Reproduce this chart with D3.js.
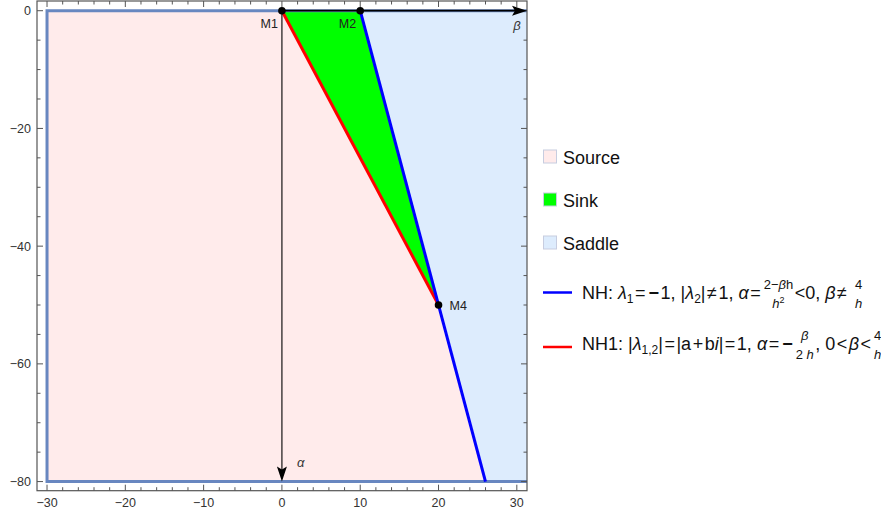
<!DOCTYPE html>
<html>
<head>
<meta charset="utf-8">
<script src="https://cdn.jsdelivr.net/npm/d3@7"></script>
<style>
  body { margin: 0; background: #fff; }
  text { font-family: "Liberation Sans", Arial, sans-serif; white-space: pre; }
</style>
</head>
<body>
<div id="chart"></div>
<script>
// axis ticks
var xTicks = [-30, -20, -10, 0, 10, 20, 30];
var xMinor = d3.range(-30, 31, 2);
var yTicks = [0, -20, -40, -60, -80];
var yMinor = d3.range(0, -81, -5);

// regions (beta, alpha)
var xMax = 31.3;
var sourcePoly = [[-30, 0], [0, 0], [20, -50], [26, -80], [-30, -80]];
var sinkPoly = [[0, 0], [10, 0], [20, -50]];
var saddlePoly = [[10, 0], [xMax, 0], [xMax, -80], [26, -80]];
var borderPath = [[xMax, 0], [-30, 0], [-30, -80], [xMax, -80]];

// boundary lines
var nhLine = [[10, 0], [26, -80]];
var nh1Line = [[0, 0], [20, -50]];

// special points
var points = [
  {name: "M1", b: 0, a: 0, side: "left"},
  {name: "M2", b: 10, a: 0, side: "left"},
  {name: "M4", b: 20, a: -50, side: "right"}
];

var legendBoxes = [
  {label: "Source", fill: "#ffebeb"},
  {label: "Sink", fill: "#00ff00"},
  {label: "Saddle", fill: "#ddecfd"}
];

var width = 881, height = 516;

var svg = d3.select("#chart").append("svg")
  .attr("width", width)
  .attr("height", height);

var x = d3.scaleLinear().domain([-31.28, xMax]).range([37, 527]);
var y = d3.scaleLinear().domain([1.65, -81.55]).range([1, 490.7]);

var line = d3.line().x(function(d) { return x(d[0]); }).y(function(d) { return y(d[1]); });
var poly = function(p) { return line(p) + "Z"; };

// filled regions
svg.append("path").attr("d", poly(sourcePoly)).attr("fill", "#ffebeb");
svg.append("path").attr("d", poly(saddlePoly)).attr("fill", "#ddecfd");
svg.append("path").attr("d", poly(sinkPoly)).attr("fill", "#00ff00");

// region border
svg.append("path").attr("d", line(borderPath))
  .attr("fill", "none").attr("stroke", "#6887c0").attr("stroke-width", 3);

// boundary lines
svg.append("path").attr("d", line(nh1Line))
  .attr("stroke", "#ff0000").attr("stroke-width", 3).attr("fill", "none");
svg.append("path").attr("d", line(nhLine))
  .attr("stroke", "#0000ff").attr("stroke-width", 3).attr("fill", "none");

// frame with inward ticks
var frameColor = "#555";
var x0 = x.range()[0], x1 = x.range()[1], y0 = y.range()[0], y1 = y.range()[1];
svg.append("rect").attr("x", x0).attr("y", y0).attr("width", x1 - x0).attr("height", y1 - y0)
  .attr("fill", "none").attr("stroke", frameColor).attr("stroke-width", 1.2);

var ticks = svg.append("g").attr("stroke", frameColor).attr("stroke-width", 1);
xMinor.forEach(function(v) {
  var len = xTicks.indexOf(v) >= 0 ? 6 : 3.5;
  ticks.append("line").attr("x1", x(v)).attr("x2", x(v)).attr("y1", y1).attr("y2", y1 - len);
  ticks.append("line").attr("x1", x(v)).attr("x2", x(v)).attr("y1", y0).attr("y2", y0 + len);
});
yMinor.forEach(function(v) {
  var len = yTicks.indexOf(v) >= 0 ? 6 : 3.5;
  ticks.append("line").attr("x1", x0).attr("x2", x0 + len).attr("y1", y(v)).attr("y2", y(v));
  ticks.append("line").attr("x1", x1).attr("x2", x1 - len).attr("y1", y(v)).attr("y2", y(v));
});

var fmt = function(v) { return v < 0 ? "\u2212" + Math.abs(v) : String(v); };
svg.append("g").selectAll("text").data(xTicks).enter().append("text")
  .attr("x", function(d) { return x(d); })
  .attr("y", 507)
  .attr("text-anchor", "middle")
  .attr("font-size", 12.5).attr("fill", "#333")
  .text(fmt);
svg.append("g").selectAll("text").data(yTicks).enter().append("text")
  .attr("x", 31)
  .attr("y", function(d) { return y(d) + 4.4; })
  .attr("text-anchor", "end")
  .attr("font-size", 12.5).attr("fill", "#333")
  .text(fmt);

// axis arrows
function arrowHead(tx, ty, ang) {
  var L = 15, W = 5, N = 3;
  var pts = [[0, 0], [-L, -W], [-L + N, 0], [-L, W]];
  var c = Math.cos(ang), s = Math.sin(ang);
  return "M" + pts.map(function(p) {
    return [tx + p[0] * c - p[1] * s, ty + p[0] * s + p[1] * c].join(",");
  }).join("L") + "Z";
}
svg.append("line").attr("x1", x(0)).attr("y1", y(0)).attr("x2", x(xMax) - 8).attr("y2", y(0))
  .attr("stroke", "#000").attr("stroke-width", 1.8);
svg.append("path").attr("d", arrowHead(x(xMax), y(0), 0)).attr("fill", "#000");
svg.append("line").attr("x1", x(0)).attr("y1", y(0)).attr("x2", x(0)).attr("y2", y(-80) - 8)
  .attr("stroke", "#000").attr("stroke-width", 1.1);
svg.append("path").attr("d", arrowHead(x(0), y(-80), Math.PI / 2)).attr("fill", "#000");

svg.append("text").attr("x", 517).attr("y", 30).attr("text-anchor", "middle")
  .attr("font-size", 13).attr("font-style", "italic").attr("fill", "#333").text("\u03b2");
svg.append("text").attr("x", 297).attr("y", 467)
  .attr("font-size", 13).attr("font-style", "italic").attr("fill", "#333").text("\u03b1");

// points
svg.append("g").selectAll("circle").data(points).enter().append("circle")
  .attr("cx", function(d) { return x(d.b); })
  .attr("cy", function(d) { return y(d.a); })
  .attr("r", 3.8).attr("fill", "#000");
svg.append("g").selectAll("text").data(points).enter().append("text")
  .attr("x", function(d) { return d.side === "left" ? x(d.b) - 4 : x(d.b) + 11; })
  .attr("y", function(d) { return d.side === "left" ? y(d.a) + 17 : y(d.a) + 4.5; })
  .attr("text-anchor", function(d) { return d.side === "left" ? "end" : "start"; })
  .attr("font-size", 12.5).attr("fill", "#222")
  .text(function(d) { return d.name; });

// legend
var lg = svg.append("g");
legendBoxes.forEach(function(d, i) {
  var cy = 157 + i * 43;
  lg.append("rect").attr("x", 543.5).attr("y", cy - 7).attr("width", 13).attr("height", 13)
    .attr("fill", d.fill).attr("stroke", "#c7cde0").attr("stroke-width", 1);
  lg.append("text").attr("x", 563).attr("y", cy + 6.5).attr("font-size", 18).attr("fill", "#111")
    .text(d.label);
});

// rich math text: segments laid out left to right
function richText(x0, base, segs) {
  var cx = x0;
  segs.forEach(function(s) {
    if (s.frac) {
      var g = lg.append("g");
      var n = g.append("text").attr("y", base - 10).attr("font-size", 13).attr("fill", "#111");
      var dd = g.append("text").attr("y", base + 9).attr("font-size", 13).attr("fill", "#111");
      s.frac[0].forEach(function(p) { n.append("tspan").attr("font-style", p.i ? "italic" : null).text(p.t); });
      s.frac[1].forEach(function(p) {
        var ts = dd.append("tspan").attr("font-style", p.i ? "italic" : null).text(p.t);
        if (p.sup) ts.attr("font-size", 9).attr("dy", -5);
      });
      var wn = n.node().getComputedTextLength(), wd = dd.node().getComputedTextLength();
      var w = Math.max(wn, wd);
      n.attr("x", cx + 1.5 + (w - wn) / 2);
      dd.attr("x", cx + 1.5 + (w - wd) / 2);
      cx += w + 3;
    } else {
      var fs = s.sub ? 12 : 18;
      var pad = s.op ? 1.5 : 0;
      var t = lg.append("text").attr("x", cx + pad).attr("y", base + (s.sub ? 4 : 0))
        .attr("font-size", fs).attr("fill", "#111")
        .attr("font-style", s.i ? "italic" : null)
        .attr("font-weight", s.b ? "bold" : null)
        .text(s.t);
      cx += t.node().getComputedTextLength() + 2 * pad;
    }
  });
}

var nhSegs = [
  {t: "NH: "}, {t: "\u03bb", i: true}, {t: "1", sub: true}, {t: "=", op: true}, {t: "\u2212", op: true, b: true},
  {t: "1, |"}, {t: "\u03bb", i: true}, {t: "2", sub: true}, {t: "|"}, {t: "\u2260", op: true}, {t: "1, "},
  {t: "\u03b1", i: true}, {t: "=", op: true},
  {frac: [[{t: "2\u2212"}, {t: "\u03b2", i: true}, {t: "h"}], [{t: "h", i: true}, {t: "2", sup: true}]]},
  {t: "<0, "}, {t: "\u03b2", i: true}, {t: "\u2260", op: true}, {t: " "},
  {frac: [[{t: "4"}], [{t: "h", i: true}]]}
];
var nh1Segs = [
  {t: "NH1: |"}, {t: "\u03bb", i: true}, {t: "1,2", sub: true}, {t: "|"}, {t: "=", op: true},
  {t: "|a"}, {t: "+", op: true}, {t: "b"}, {t: "i", i: true}, {t: "|"}, {t: "=", op: true},
  {t: "1, "}, {t: "\u03b1", i: true}, {t: "=", op: true}, {t: "\u2212", op: true, b: true},
  {frac: [[{t: "\u03b2", i: true}], [{t: "2 "}, {t: "h", i: true}]]},
  {t: ", 0"}, {t: "<", op: true}, {t: "\u03b2", i: true}, {t: "<", op: true},
  {frac: [[{t: "4"}], [{t: "h", i: true}]]}
];

lg.append("line").attr("x1", 543).attr("x2", 572).attr("y1", 292.5).attr("y2", 292.5)
  .attr("stroke", "#0000ff").attr("stroke-width", 2.5);
richText(582, 298.5, nhSegs);
lg.append("line").attr("x1", 543).attr("x2", 572).attr("y1", 347).attr("y2", 347)
  .attr("stroke", "#ff0000").attr("stroke-width", 2.5);
richText(582, 350, nh1Segs);
</script>
</body>
</html>
